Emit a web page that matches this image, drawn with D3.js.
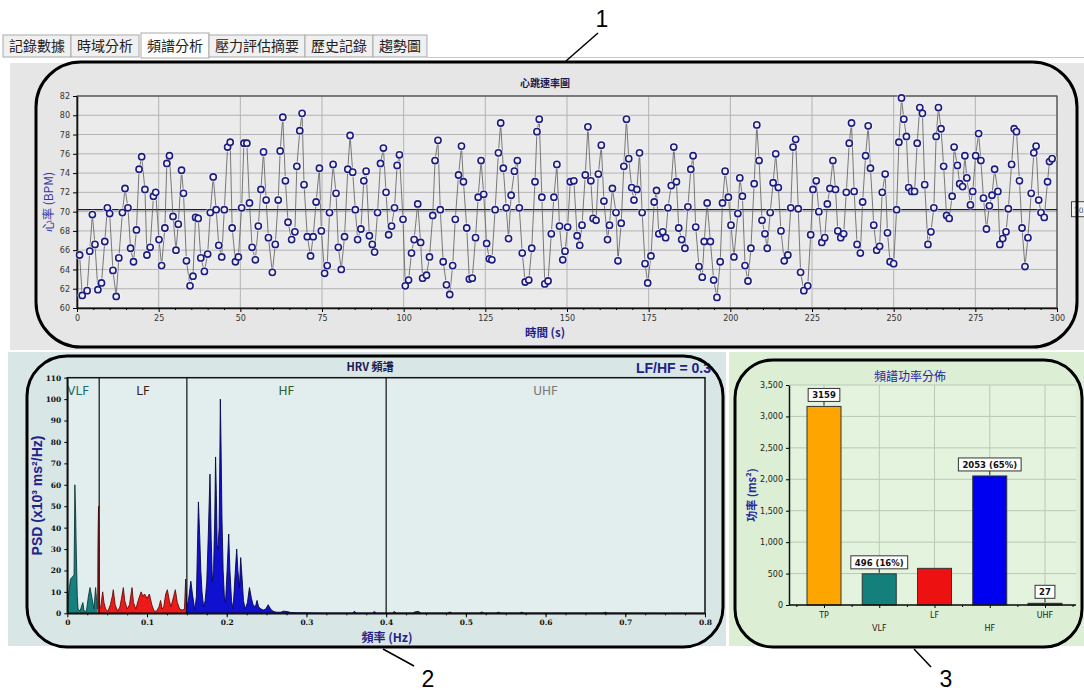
<!DOCTYPE html>
<html><head><meta charset="utf-8">
<script src="https://cdn.jsdelivr.net/npm/d3@7"></script>
<style>body{margin:0;background:#fff}svg{display:block}</style>
</head><body><svg id="c" width="1084" height="692"></svg>
<script>
// ---------- DATA ----------
const tabs = ["記錄數據","時域分析","頻譜分析","壓力評估摘要","歷史記錄","趨勢圖"];
const activeTab = 2;

const hrTime = [0.8,1.6,3.1,3.9,4.7,5.5,6.4,7.5,8.5,9.3,10.0,11.0,12.0,12.8,13.9,14.7,15.6,16.4,17.3,18.2,19.0,19.8,20.8,21.4,22.4,23.4,24.1,25.1,25.9,26.9,27.5,28.3,29.4,30.3,31.0,32.0,32.6,33.5,34.6,35.5,36.3,37.1,37.9,39.0,40.0,40.8,41.7,42.6,43.4,44.3,45.1,46.1,46.9,47.5,48.5,49.4,50.4,51.1,52.0,52.8,53.6,54.6,55.5,56.3,57.1,57.9,58.6,59.8,60.7,61.6,62.2,63.0,63.8,64.6,65.7,66.7,67.3,68.2,68.9,69.5,70.5,71.5,72.3,73.2,74.2,74.8,75.8,76.6,
77.3,78.4,79.3,80.0,80.9,81.9,82.9,83.6,84.4,85.2,85.9,86.9,87.8,88.5,89.5,90.4,91.1,92.0,92.9,93.8,94.6,95.4,96.3,97.2,98.0,98.7,99.8,100.5,101.5,102.4,103.2,104.3,105.2,105.8,107.0,107.9,108.9,109.6,110.5,111.2,112.1,113.1,114.1,115.0,115.8,116.8,117.7,118.3,119.3,120.1,121.0,122.0,122.8,123.7,124.5,125.4,126.2,127.0,128.0,129.0,129.7,130.5,131.4,132.1,132.9,133.9,134.8,135.4,136.3,137.2,138.3,139.2,140.2,140.8,141.5,142.3,143.2,144.2,145.2,146.0,146.9,147.7,148.7,149.4,150.2,
151.0,152.1,153.1,153.9,154.6,155.6,156.4,157.3,158.0,158.9,159.6,160.5,161.3,162.4,163.0,163.9,165.0,165.6,166.6,167.4,168.2,168.9,169.8,170.5,171.4,172.2,173.0,173.9,174.7,175.7,176.7,177.4,178.1,179.3,180.2,180.9,181.9,182.7,183.5,184.2,185.1,186.1,187.0,187.9,188.6,189.4,190.4,191.4,192.0,192.9,193.9,194.9,195.9,196.9,197.6,198.4,199.4,200.2,201.1,202.3,202.9,203.7,204.5,205.4,206.3,207.3,208.1,208.8,209.7,210.6,211.3,212.2,213.1,213.9,214.7,215.5,216.5,217.6,218.5,219.2,220.0,220.8,221.5,222.5,223.7,224.6,225.3,226.3,227.1,228.0,228.9,229.7,
230.5,231.4,232.2,232.9,233.8,234.7,235.5,236.4,237.1,237.9,238.8,239.8,240.5,241.4,242.2,242.9,243.9,244.8,245.7,246.5,247.4,248.1,248.9,250.0,250.9,251.6,252.4,253.1,253.9,254.6,255.5,256.4,257.2,258.0,258.8,259.5,260.5,261.4,262.3,263.0,263.7,264.5,265.3,266.2,267.0,267.9,268.5,269.5,270.2,271.1,271.8,272.4,273.5,274.2,275.1,276.0,276.7,277.5,278.4,279.3,280.1,280.9,281.9,282.5,283.4,284.4,285.1,286.1,286.9,287.6,288.5,289.3,290.2,291.1,292.1,292.9,293.6,294.4,295.1,296.1,297.1,297.7,298.5];

const hrBpm = [65.5,61.3,61.8,65.9,69.7,66.6,61.9,62.6,66.9,70.4,69.8,63.9,61.2,65.2,69.9,72.4,70.4,66.2,64.8,68.1,74.4,75.7,72.3,65.5,66.3,71.6,72.0,67.1,64.4,68.3,75.0,75.8,69.5,66.0,68.7,74.3,71.9,64.9,62.3,63.3,69.4,69.3,65.2,63.8,65.6,69.9,73.6,70.2,66.5,65.3,70.2,76.7,77.2,68.3,64.8,65.3,70.4,77.1,77.1,70.9,66.3,65.0,68.5,72.3,76.2,71.2,67.3,63.7,66.6,71.2,76.3,79.8,73.2,68.9,67.1,67.9,74.7,78.4,80.2,72.8,67.4,65.4,67.4,71.0,74.5,68.0,63.6,64.4,
69.9,74.9,71.9,66.3,64.0,67.4,74.4,77.9,74.1,70.2,67.1,68.2,73.2,74.2,67.5,66.6,65.8,69.9,75.0,76.6,72.0,67.6,68.5,70.4,74.8,75.9,69.2,62.3,62.9,65.7,67.1,70.8,66.8,63.1,63.4,65.3,69.6,75.3,77.4,70.2,64.8,62.4,61.4,64.4,69.2,73.8,76.8,73.1,68.3,63.0,63.1,67.3,71.5,75.3,71.8,66.7,65.1,65.0,70.2,76.1,79.2,74.5,70.4,67.2,71.7,74.2,75.3,70.4,65.7,62.7,62.9,66.2,73.1,78.3,79.6,71.5,62.5,62.8,67.7,71.5,74.9,68.5,65.0,65.9,68.4,
73.1,73.2,67.5,66.5,68.6,73.8,78.8,73.2,69.3,69.1,73.9,76.9,71.1,67.1,68.6,72.4,69.9,64.9,68.8,74.7,79.6,75.5,72.5,71.2,72.3,76.1,69.9,64.6,62.6,65.4,71.0,72.2,67.7,67.9,67.3,70.4,72.7,76.7,73.1,68.3,67.1,66.2,70.5,74.4,75.8,68.4,64.3,63.2,66.9,70.9,66.9,62.9,61.1,64.8,70.9,74.2,71.5,68.6,65.3,69.8,73.5,71.6,64.4,62.8,66.2,72.9,79.0,75.3,69.1,67.7,66.2,69.9,73.0,76.0,72.5,68.0,64.9,65.5,70.4,76.7,77.5,70.3,63.7,61.8,62.3,67.6,72.3,73.2,70.0,66.8,67.3,70.8,
72.4,75.3,72.3,68.0,67.3,67.7,72.0,77.1,79.2,72.1,66.6,65.7,71.0,75.8,78.9,74.5,68.6,66.0,66.4,72.0,73.9,67.8,64.8,64.6,70.2,77.2,81.8,79.6,77.8,72.5,72.1,72.1,77.1,80.8,80.2,72.8,66.6,67.9,70.4,77.8,80.8,78.6,74.7,69.6,69.3,71.6,76.7,74.8,72.9,72.6,75.8,73.5,70.7,72.1,75.8,78.1,75.3,71.4,68.2,70.6,71.7,74.4,72.1,66.6,67.2,67.9,70.3,74.9,78.6,78.3,73.2,68.3,64.3,67.3,71.9,76.1,76.8,71.2,69.9,69.4,73.1,75.2,75.5];
const hrMean = 70.2;
const hrMeanLabel = "70";
const hrYTicks = [60,62,64,66,68,70,72,74,76,78,80,82];
const hrXTicks = [0,25,50,75,100,125,150,175,200,225,250,275,300];

const specFreq = [0,0.002,0.004,0.0065,0.0085,0.0095,0.0105,0.0112,0.0125,0.0135,0.016,0.0185,0.0195,0.021,0.024,0.0265,0.0285,0.031,0.0335,0.0355,0.0368,0.0378,0.0385,0.0392,0.0397,0.040,
0.042,0.0444,0.046,0.048,0.051,0.054,0.0565,0.0577,0.060,0.063,0.066,0.068,0.0703,0.072,0.075,0.078,0.0812,0.083,0.086,0.089,0.0925,0.095,0.097,0.100,0.103,0.106,0.109,0.112,0.115,0.117,0.119,0.121,0.1235,0.1255,0.128,0.130,0.1335,0.1355,0.138,0.141,0.144,0.147,
0.1485,0.150,0.152,0.155,0.157,0.160,0.162,0.1645,0.1662,0.1675,0.169,0.171,0.173,0.175,0.177,0.179,0.1805,0.182,0.1835,0.185,0.186,0.187,0.188,0.189,0.1905,0.1915,0.192,0.1928,0.194,0.1955,0.197,0.1985,0.2005,0.2025,0.204,0.206,0.208,0.2105,0.2125,0.214,0.216,0.2175,0.219,0.221,0.223,0.226,0.2285,0.231,0.233,0.236,0.238,0.240,0.243,0.246,0.249,0.252,0.255,0.258,0.262,0.268,0.271,0.276,0.280,0.290,0.300,0.320,
0.358,0.360,0.363,0.383,0.385,0.388,0.408,0.410,0.413,0.433,0.436,0.440,0.444,0.477,0.480,0.483,0.517,0.520,0.523,0.538,0.541,0.544,0.567,0.570,0.573,0.672,0.675,0.678,0.800];
const specPsd = [0,10,16,17,18,60,46,30,8,2,1,4,5,1,1,8,12,7,2,12,6,2,35,50,35,3,
3,10,5,2,1,4,8,11,4,1,3,7,12,6,2,4,12,5,2,6,10,8,9,7,9,4,1,1,3,6,2,3,9,11,6,3,8,11,5,2,1.5,2,
16,3,6,15,9,1.5,8,52,35,20,10,3,6,15,38,65,35,15,20,45,73,55,32,30,40,78,100,80,45,20,8,5,20,37,20,6,2,18,30,20,12,26,18,6,2,5,12,7,4,3,6,3,2,1.5,2,4,2,1,0.5,0.5,1,0.8,0.4,0.2,0.2,0.1,
0.1,0.9,0.1,0.1,0.8,0.1,0.1,0.8,0.1,0.1,0.6,0.9,0.1,0.1,0.6,0.1,0.1,0.6,0.1,0.1,0.5,0.1,0.1,0.5,0.1,0.1,0.5,0.1,0];
const bandEdges = [0,0.04,0.15,0.4,0.8];          // divider lines
const binColourEdges = [0,0.038,0.148,0.4,0.8];   // where the fill colour changes (per spectral bin)
const bandNames = ["VLF","LF","HF","UHF"];
const specYTicks = [0,10,20,30,40,50,60,70,80,90,100,110];
const specXTicks = [0,0.1,0.2,0.3,0.4,0.5,0.6,0.7,0.8];
const lfhfText = "LF/HF = 0.3";

const powerCats = ["TP","VLF","LF","HF","UHF"];
const powerVals = [3159,496,583,2053,27];
const powerLabels = ["3159","496 (16%)","","2053 (65%)","27"];
const powerTicks = [0,500,1000,1500,2000,2500,3000,3500];

// ---------- STYLE ----------
const CJK = "'Noto Sans CJK TC','Noto Sans CJK SC',sans-serif";
const SANS = "'DejaVu Sans',Verdana,sans-serif";
const LIB = "'Liberation Sans',Arial,sans-serif";
const NAVY = "#22228a";
const svg = d3.select("#c");

// ---------- TABS ----------
let tx = 3;
tabs.forEach((t,i)=>{
  const g = svg.append("g");
  const txt = g.append("text").attr("y",51).attr("font-family",CJK).attr("font-size",14).attr("fill","#222").text(t);
  const w = txt.node().getComputedTextLength()+12;
  const act = i===activeTab;
  g.insert("rect","text").attr("x",tx).attr("y",act?33:35).attr("width",w).attr("height",act?25:22)
   .attr("fill",act?"#ffffff":"#f0f0f0").attr("stroke","#a9a9a9").attr("stroke-width",1);
  txt.attr("x",tx+6);
  tx += w+ (i===1?2:0);
});
svg.append("line").attr("x1",tx).attr("x2",1084).attr("y1",57.5).attr("y2",57.5).attr("stroke","#c8c8c8");

// ---------- PANEL BACKGROUNDS ----------
svg.append("rect").attr("x",10).attr("y",63).attr("width",1074).attr("height",287).attr("fill","#e6e6e6");
svg.append("rect").attr("x",8).attr("y",352).attr("width",718).attr("height",294).attr("fill","#d9e6e6");
svg.append("rect").attr("x",729).attr("y",352).attr("width",355).attr("height",294).attr("fill","#dcefd5");

// ---------- TOP: HEART RATE ----------
const x1 = d3.scaleLinear().domain([0,300]).range([77,1057]);
const y1 = d3.scaleLinear().domain([60,82]).range([308,96]);
const hrG = svg.append("g");
hrG.append("rect").attr("x",x1(0)).attr("y",y1(82)).attr("width",x1(300)-x1(0)).attr("height",y1(60)-y1(82)).attr("fill","#ebebeb");
hrG.selectAll(".gx").data(hrXTicks).join("line").attr("x1",d=>x1(d)).attr("x2",d=>x1(d)).attr("y1",y1(82)).attr("y2",y1(60)).attr("stroke","#b3b3b3");
hrG.selectAll(".gy").data(hrYTicks).join("line").attr("x1",x1(0)).attr("x2",x1(300)).attr("y1",d=>y1(d)).attr("y2",d=>y1(d)).attr("stroke","#b3b3b3");
hrG.append("rect").attr("x",x1(0)).attr("y",y1(82)).attr("width",x1(300)-x1(0)).attr("height",y1(60)-y1(82)).attr("fill","none").attr("stroke","#444").attr("stroke-width",1.2);
const ax1 = hrG.append("g").attr("transform",`translate(0,${y1(60)})`).call(d3.axisBottom(x1).tickValues(hrXTicks).tickSize(4).tickSizeOuter(0));
hrG.append("g").attr("transform",`translate(0,${y1(60)})`).call(d3.axisBottom(x1).tickValues(d3.range(5,300,5).filter(v=>v%25)).tickSize(2).tickFormat("").tickSizeOuter(0)).select(".domain").remove();
const ay1 = hrG.append("g").attr("transform",`translate(${x1(0)},0)`).call(d3.axisLeft(y1).tickValues(hrYTicks).tickSize(4).tickSizeOuter(0));
[ax1,ay1].forEach(a=>{a.selectAll("text").attr("font-family",SANS).attr("font-size",8).attr("fill","#333");
  a.select(".domain").attr("stroke","#111").attr("stroke-width",1.6);});
// mean line
hrG.append("line").attr("x1",x1(0)).attr("x2",x1(300)).attr("y1",y1(hrMean)).attr("y2",y1(hrMean)).attr("stroke","#1b1b3a").attr("stroke-width",1.3);
hrG.append("rect").attr("x",1071.5).attr("y",y1(hrMean)-8).attr("width",30).attr("height",15).attr("fill","#f2f2f2").attr("stroke","#444");
hrG.append("text").attr("x",1074).attr("y",y1(hrMean)+3).attr("font-family",SANS).attr("font-size",7.5).attr("fill","#555").text(hrMeanLabel);
// line + markers
const pts = hrTime.map((t,i)=>[t,hrBpm[i]]);
hrG.append("path").datum(pts).attr("d",d3.line().x(d=>x1(d[0])).y(d=>y1(d[1]))).attr("fill","none").attr("stroke","#5a5a5a").attr("stroke-width",0.8);
hrG.selectAll(".halo").data(pts).join("circle").attr("cx",d=>x1(d[0])).attr("cy",d=>y1(d[1])).attr("r",4.8).attr("fill","#ffffff").attr("opacity",0.6);
hrG.selectAll(".mk").data(pts).join("circle").attr("cx",d=>x1(d[0])).attr("cy",d=>y1(d[1])).attr("r",3.1).attr("fill","#f0f0fa").attr("stroke","#1c1c80").attr("stroke-width",1.6);
// titles
hrG.append("text").attr("x",545).attr("y",87).attr("text-anchor","middle").attr("font-family",CJK).attr("font-size",10).attr("font-weight","bold").attr("fill","#1a1a50").text("心跳速率圖");
hrG.append("text").attr("transform",`translate(53,${(y1(60)+y1(82))/2}) rotate(-90)`).attr("text-anchor","middle").attr("font-family",CJK).attr("font-size",12).attr("fill","#3535a8").text("心率 (BPM)");
hrG.append("text").attr("x",545).attr("y",337).attr("text-anchor","middle").attr("font-family",CJK).attr("font-size",11.5).attr("font-weight","bold").attr("fill",NAVY).text("時間 (s)");

// ---------- BOTTOM LEFT: SPECTRUM ----------
const x2 = d3.scaleLinear().domain([0,0.8]).range([67.3,705]);
const y2 = d3.scaleLinear().domain([0,110]).range([613.3,377.7]);
const sp = svg.append("g");
sp.append("rect").attr("x",x2(0)).attr("y",y2(110)).attr("width",x2(0.8)-x2(0)).attr("height",y2(0)-y2(110)).attr("fill","#e2eded");
const bandFill = ["#14807f","#ee1a1a","#1010d0","#333344"];
const bandStroke = ["#0a3a3a","#6a0a0a","#08084a","#111"];
const bandLabelColor = ["#1d6b6b","#3a1f1f","#2f5f2f","#7a7a7a"];
const area = d3.area().x((d,i)=>x2(specFreq[i])).y0(y2(0)).y1(d=>y2(d));
const defs = svg.append("defs");
bandNames.forEach((b,i)=>{
  defs.append("clipPath").attr("id","cb"+i).append("rect")
    .attr("x",x2(binColourEdges[i])).attr("y",y2(110)).attr("width",x2(binColourEdges[i+1])-x2(binColourEdges[i])).attr("height",y2(0)-y2(110)+1);
  sp.append("path").datum(specPsd).attr("d",area).attr("clip-path",`url(#cb${i})`)
    .attr("fill",bandFill[i]).attr("stroke",bandStroke[i]).attr("stroke-width",0.9);
});
sp.selectAll(".bd").data(bandEdges.slice(1,4)).join("line").attr("x1",d=>x2(d)).attr("x2",d=>x2(d)).attr("y1",y2(110)).attr("y2",y2(0)).attr("stroke","#111").attr("stroke-width",1.2);
const bandLabelX = [null,(bandEdges[1]+bandEdges[2])/2,(bandEdges[2]+bandEdges[3])/2,(bandEdges[3]+bandEdges[4])/2];
bandNames.forEach((b,i)=>{
  sp.append("text").attr("x",i===0?x2(0):x2(bandLabelX[i])).attr("y",395).attr("text-anchor",i===0?"start":"middle")
    .attr("font-family",SANS).attr("font-size",12).attr("fill",bandLabelColor[i]).text(b);
});
sp.append("rect").attr("x",x2(0)).attr("y",y2(110)).attr("width",x2(0.8)-x2(0)).attr("height",y2(0)-y2(110)).attr("fill","none").attr("stroke","#111").attr("stroke-width",1.5);
const ax2 = sp.append("g").attr("transform",`translate(0,${y2(0)})`).call(d3.axisBottom(x2).tickValues(specXTicks).tickSize(4).tickSizeOuter(0).tickFormat(d=>d===0?"0":d3.format(".1f")(d)));
sp.append("g").attr("transform",`translate(0,${y2(0)})`).call(d3.axisBottom(x2).tickValues(d3.range(0.025,0.8,0.025)).tickSize(2).tickFormat("").tickSizeOuter(0)).select(".domain").remove();
const ay2 = sp.append("g").attr("transform",`translate(${x2(0)},0)`).call(d3.axisLeft(y2).tickValues(specYTicks).tickSize(3).tickSizeOuter(0));
[ax2,ay2].forEach(a=>{a.selectAll("text").attr("font-family","'DejaVu Serif',serif").attr("font-size",7.5).attr("font-weight","bold").attr("fill","#111");
  a.select(".domain").attr("stroke","#111").attr("stroke-width",1.6);});
ax2.selectAll("text").attr("dy","0.6em");
sp.append("text").attr("x",370).attr("y",371).attr("text-anchor","middle").attr("font-family",CJK).attr("font-size",11).attr("font-weight","bold").attr("fill","#1a1a50").text("HRV 頻譜");
sp.append("text").attr("x",711).attr("y",373).attr("text-anchor","end").attr("font-family",LIB).attr("font-size",14).attr("font-weight","bold").attr("fill",NAVY).text(lfhfText);
sp.append("text").attr("transform",`translate(42,${(y2(0)+y2(110))/2}) rotate(-90)`).attr("text-anchor","middle").attr("font-family",LIB).attr("font-size",14).attr("font-weight","bold").attr("fill",NAVY).text("PSD (x10³ ms²/Hz)");
sp.append("text").attr("x",387).attr("y",642).attr("text-anchor","middle").attr("font-family",CJK).attr("font-size",12).attr("font-weight","bold").attr("fill",NAVY).text("頻率 (Hz)");

// ---------- BOTTOM RIGHT: POWER BARS ----------
const x3 = d3.scalePoint().domain(powerCats).range([824,1045]);
const y3 = d3.scaleLinear().domain([0,3500]).range([605,385]);
const bw = 34;
const bp = svg.append("g");
bp.append("rect").attr("x",789).attr("y",y3(3500)).attr("width",1076-789).attr("height",y3(0)-y3(3500)).attr("fill","#e4f3de");
bp.selectAll(".gy").data(powerTicks).join("line").attr("x1",789).attr("x2",1076).attr("y1",d=>y3(d)).attr("y2",d=>y3(d)).attr("stroke","#b9c9b5");
bp.selectAll(".gx").data(powerCats).join("line").attr("x1",d=>x3(d)).attr("x2",d=>x3(d)).attr("y1",y3(3500)).attr("y2",y3(0)).attr("stroke","#b9c9b5");
const barFill = ["#ffa500","#13807c","#ee1111","#0000f0","#1a1a40"];
bp.selectAll(".bar").data(powerVals).join("rect").attr("x",(d,i)=>x3(powerCats[i])-bw/2).attr("y",d=>y3(d)).attr("width",bw).attr("height",d=>y3(0)-y3(d))
  .attr("fill",(d,i)=>barFill[i]).attr("stroke","#333").attr("stroke-width",1);
const ay3 = bp.append("g").attr("transform","translate(789,0)").call(d3.axisLeft(y3).tickValues(powerTicks).tickSize(3).tickSizeOuter(0).tickFormat(d3.format(",")));
const ax3 = bp.append("g").attr("transform",`translate(0,${y3(0)})`).call(d3.axisBottom(x3).tickSize(3).tickSizeOuter(0).tickFormat(""));
ax3.select(".domain").attr("d","M789,0H1076");
bp.append("g").attr("transform",`translate(0,${y3(0)})`).call(d3.axisBottom(d3.scaleLinear().domain([0,4]).range([x3("TP"),x3("UHF")])).tickValues(d3.range(-0.5,4.6,0.5).filter(v=>v%1)).tickSize(2).tickFormat("").tickSizeOuter(0)).select(".domain").remove();
[ax3,ay3].forEach(a=>{a.selectAll("text").attr("font-family",SANS).attr("font-size",8).attr("fill","#222");
  a.select(".domain").attr("stroke","#111").attr("stroke-width",1.5);});
powerCats.forEach((c,i)=>{
  bp.append("text").attr("x",x3(c)).attr("y",i%2?631:618).attr("text-anchor","middle").attr("font-family",SANS).attr("font-size",8).attr("fill","#222").text(c);
});
powerLabels.forEach((lab,i)=>{
  if(!lab) return;
  const cx = x3(powerCats[i]), yb = y3(powerVals[i])-5;
  const g = bp.append("g");
  const t = g.append("text").attr("x",cx).attr("y",yb-3).attr("text-anchor","middle").attr("font-family",SANS).attr("font-size",8.5).attr("font-weight","bold").attr("fill","#111").text(lab);
  const w = t.node().getComputedTextLength()+8;
  g.insert("rect","text").attr("x",cx-w/2).attr("y",yb-13).attr("width",w).attr("height",13).attr("fill","#fff").attr("stroke","#333").attr("stroke-width",1);
  g.append("line").attr("x1",cx).attr("x2",cx).attr("y1",yb).attr("y2",yb+4).attr("stroke","#333");
});
bp.append("text").attr("x",910).attr("y",381).attr("text-anchor","middle").attr("font-family",CJK).attr("font-size",12).attr("fill","#2525a0").text("頻譜功率分佈");
bp.append("text").attr("transform",`translate(756,${(y3(0)+y3(3500))/2}) rotate(-90)`).attr("text-anchor","middle").attr("font-family",CJK).attr("font-size",11).attr("font-weight","bold").attr("fill","#2a2aa0").text("功率 (ms²)");

// ---------- ANNOTATIONS ----------
const ann = svg.append("g").attr("fill","none").attr("stroke","#000");
ann.append("rect").attr("x",36).attr("y",62).attr("width",1041).attr("height",285).attr("rx",45).attr("stroke-width",3);
ann.append("rect").attr("x",27).attr("y",356).attr("width",696).attr("height",291).attr("rx",40).attr("stroke-width",3);
ann.append("rect").attr("x",735).attr("y",360).attr("width",347).attr("height",287).attr("rx",38).attr("stroke-width",3);
ann.append("line").attr("x1",598).attr("y1",33).attr("x2",566).attr("y2",61).attr("stroke-width",1.5);
ann.append("line").attr("x1",383).attr("y1",649).attr("x2",414).attr("y2",666).attr("stroke-width",1.5);
ann.append("line").attr("x1",914).attr("y1",649).attr("x2",931).attr("y2",667).attr("stroke-width",1.5);
[["1",602,27],["2",428,687],["3",946,687]].forEach(a=>{
  svg.append("text").attr("x",a[1]).attr("y",a[2]).attr("text-anchor","middle").attr("font-family",LIB).attr("font-size",23).attr("fill","#000").text(a[0]);
});
</script></body></html>
